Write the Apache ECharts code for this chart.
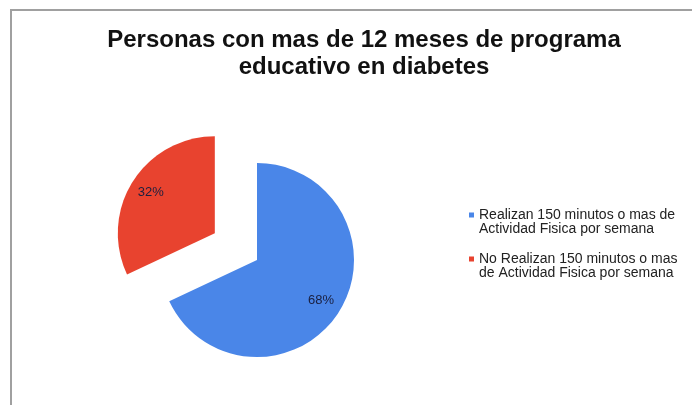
<!DOCTYPE html>
<html>
<head>
<meta charset="utf-8">
<script src="https://cdn.jsdelivr.net/npm/echarts@6/dist/echarts.min.js"></script>
<style>
html,body{margin:0;padding:0;background:#fff;}
#c{width:692px;height:405px;}
</style>
</head>
<body>
<div id="c"></div>
<script>
var titleLines = ['Personas con mas de 12 meses de programa', 'educativo en diabetes'];
var categories = ['Realizan 150 minutos o mas de Actividad Fisica por semana',
                  'No Realizan 150 minutos o mas de Actividad Fisica por semana'];
var values = [68, 32];
var colors = ['#4a86e8', '#e8432f'];
var explodedIndex = 1;

var PIE_CX = 257, PIE_CY = 260, PIE_R = 97;

function wrap(s, maxChars) {
  var words = s.split(' '), lines = [], cur = '';
  words.forEach(function (w) {
    var t = cur ? cur + ' ' + w : w;
    if (t.length > maxChars && cur) { lines.push(cur); cur = w; } else { cur = t; }
  });
  if (cur) lines.push(cur);
  return lines.join('\n');
}

var chart = echarts.init(document.getElementById('c'), null, {renderer: 'canvas'});
chart.setOption({
  animation: false,
  backgroundColor: '#fff',
  graphic: [{
    type: 'polyline',
    shape: {points: [[11, 405], [11, 10], [692, 10]]},
    style: {stroke: '#a0a0a0', lineWidth: 2, fill: null},
    silent: true
  }],
  title: {
    text: titleLines.join('\n'),
    left: 359,
    top: 22,
    textAlign: 'center',
    textStyle: {
      fontFamily: 'Liberation Sans, Arial, sans-serif',
      fontSize: 24,
      fontWeight: 'bold',
      color: '#111',
      lineHeight: 27
    }
  },
  legend: {
    orient: 'vertical',
    left: 464,
    top: 203,
    icon: 'path://M0,0L0.01,0M0,4.5h5v5h-5zM0,27.99L0.01,28',
    itemWidth: 5,
    itemHeight: 28,
    itemGap: 16,
    selectedMode: false,
    formatter: function (n) { return wrap(n, 30); },
    textStyle: {
      fontFamily: 'Liberation Sans, Arial, sans-serif',
      fontSize: 14,
      lineHeight: 14,
      color: '#222'
    },
    itemStyle: {borderWidth: 0},
    data: categories
  },
  series: [{
    type: 'pie',
    center: [PIE_CX, PIE_CY],
    radius: PIE_R,
    startAngle: 90,
    clockwise: true,
    selectedMode: 'single',
    selectedOffset: 50,
    emphasis: {disabled: true},
    label: {
      show: true,
      position: 'inside',
      formatter: '{d}%',
      fontFamily: 'Liberation Sans, Arial, sans-serif',
      fontSize: 13,
      color: '#1a1f3f'
    },
    labelLayout: function (p) {
      var cx = p.labelRect.x + p.labelRect.width / 2;
      var cy = p.labelRect.y + p.labelRect.height / 2;
      var vx = cx - PIE_CX, vy = cy - PIE_CY;
      var len = Math.sqrt(vx * vx + vy * vy) || 1;
      var extra = 0.25 * PIE_R;
      return {dx: vx / len * extra, dy: vy / len * extra};
    },
    itemStyle: {borderWidth: 0},
    data: categories.map(function (c, i) {
      return {name: c, value: values[i], selected: i === explodedIndex,
              itemStyle: {color: colors[i]}};
    })
  }]
});
</script>
</body>
</html>
